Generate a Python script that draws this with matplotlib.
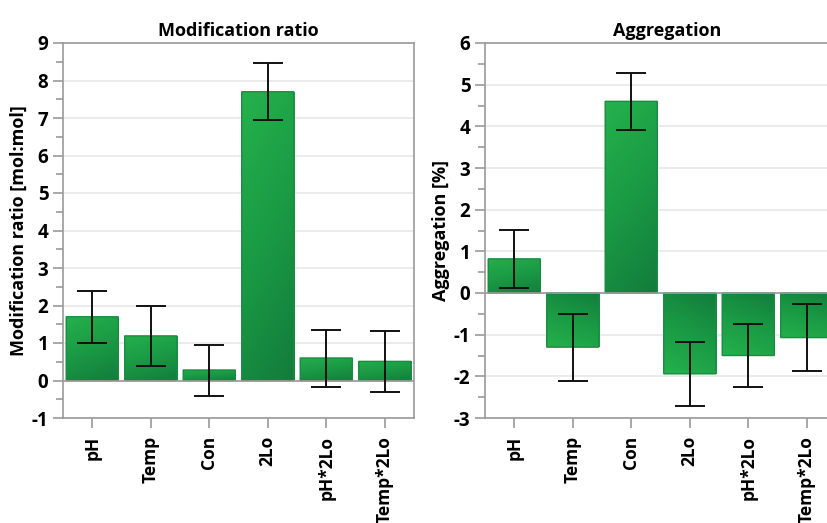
import numpy as np
import matplotlib
matplotlib.use("Agg")
import matplotlib.pyplot as plt
from matplotlib.colors import LinearSegmentedColormap

plt.rcParams['font.family'] = ['Open Sans', 'DejaVu Sans']
plt.rcParams['font.weight'] = 'bold'

facteurs = ["pH", "Temp", "Con", "2Lo", "pH*2Lo", "Temp*2Lo"]
ratio = [1.70, 1.19, 0.28, 7.70, 0.60, 0.51]
ratio_err = [0.70, 0.81, 0.68, 0.76, 0.76, 0.81]
agreg = [0.82, -1.30, 4.60, -1.94, -1.50, -1.07]
agreg_err = [0.70, 0.80, 0.68, 0.76, 0.75, 0.81]

vert = LinearSegmentedColormap.from_list("vert", ["#127b3b", "#1a9a44", "#25b24d"])
gris = "#9a9a9a"

def barres(ax, valeurs, erreurs):
    x = np.arange(len(valeurs))
    b = ax.bar(x, valeurs, width=0.89, color="none", edgecolor="#1a8c41", linewidth=1.0, zorder=3)
    # degrade diagonal : clair en haut a gauche, fonce en bas a droite
    gx, gy = np.meshgrid(np.linspace(0, 1, 50), np.linspace(0, 1, 200))
    grad = 0.75 * gy + 0.25 * (1 - gx)
    for rect in b:
        rect.set_snap(False)
        x0 = rect.get_x()
        h = rect.get_height()
        marge = 0.05 * np.sign(h)
        im = ax.imshow(grad, cmap=vert, vmin=0, vmax=1, origin="lower", aspect="auto",
                       extent=(x0 - 0.02, x0 + rect.get_width() + 0.02, -marge, h + marge), zorder=2)
        im.set_clip_path(rect)
    ax.errorbar(x, valeurs, yerr=erreurs, fmt="none", ecolor="#111111", elinewidth=1.4,
                capsize=11, capthick=1.4, zorder=4)
    ax.set_xticks(x)
    ax.set_xticklabels(facteurs, rotation=90, fontsize=12.5, fontweight="bold")
    ax.set_xlim(-0.5, len(valeurs) - 0.5)
    ax.axhline(0, color=gris, lw=1.2, zorder=3)
    ax.grid(axis="y", color="#e8e8e8", lw=1.2, zorder=0)
    ax.set_axisbelow(True)
    for s in ax.spines.values():
        s.set_color(gris)
        s.set_linewidth(1.2)
    ax.tick_params(axis="both", which="both", color=gris, width=1.2)
    ax.tick_params(axis="y", labelsize=13.5)
    ax.tick_params(axis="both", which="major", length=7)
    ax.tick_params(axis="y", which="minor", length=5)
    ax.tick_params(axis="x", pad=6)

fig = plt.figure(figsize=(8.27, 5.23), dpi=100)
ax1 = fig.add_axes([63/827, 1 - 418/523, 351/827, 375/523])
ax2 = fig.add_axes([485/827, 1 - 418/523, 351/827, 375/523])

barres(ax1, ratio, ratio_err)
ax1.set_ylim(-1, 9)
ax1.set_yticks(np.arange(-1, 10, 1))
ax1.set_yticks(np.arange(-1, 9, 0.5), minor=True)
ax1.set_yticklabels([str(v) for v in range(-1, 10)], fontweight="bold")
ax1.set_ylabel("Modification ratio [mol:mol]", fontsize=13, fontweight="bold", labelpad=3)
ax1.set_title("Modification ratio", fontsize=13, fontweight="bold", pad=5)

barres(ax2, agreg, agreg_err)
ax2.set_ylim(-3, 6)
ax2.set_yticks(np.arange(-3, 7, 1))
ax2.set_yticks(np.arange(-3, 6, 0.5), minor=True)
ax2.set_yticklabels([str(v) for v in range(-3, 7)], fontweight="bold")
ax2.set_ylabel("Aggregation [%]", fontsize=13, fontweight="bold", labelpad=3)
ax2.set_title("Aggregation", fontsize=13, fontweight="bold", pad=5, x=0.52)

fig.savefig("out.png", dpi=100)
